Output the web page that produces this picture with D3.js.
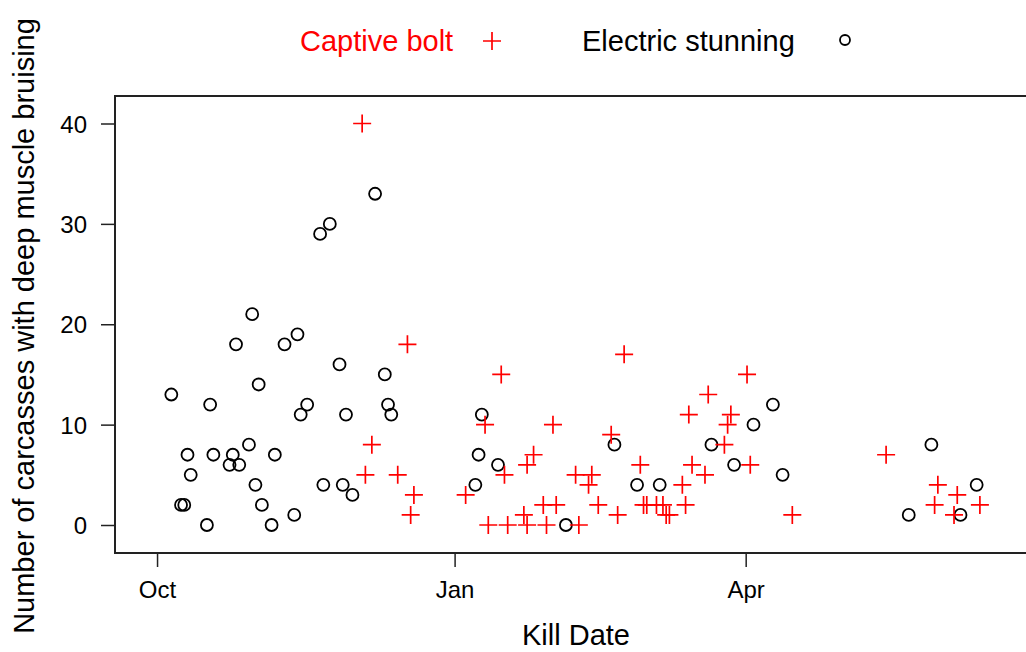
<!DOCTYPE html>
<html>
<head>
<meta charset="utf-8">
<script src="https://cdn.jsdelivr.net/npm/d3@7/dist/d3.min.js"></script>
<style>
  body { margin: 0; background: #fff; }
  svg { display: block; font-family: "Liberation Sans", Arial, sans-serif; }
</style>
</head>
<body>
<div class="chart"></div>
<script>
// kill dates and counts
const BOLT_DATES = ['2018-12-03','2018-12-17','2018-12-06','2018-12-04','2018-12-14','2018-12-19','2018-12-18',
  '2019-01-15','2019-02-22','2019-01-10','2019-01-31','2019-02-18','2019-01-25','2019-01-23','2019-01-16',
  '2019-01-04','2019-02-07','2019-02-12','2019-02-11','2019-02-27','2019-01-28','2019-02-01','2019-02-14',
  '2019-01-22','2019-02-20','2019-01-11','2019-01-17','2019-01-23','2019-01-29','2019-02-08',
  '2019-04-01','2019-03-20','2019-03-14','2019-03-27','2019-03-26','2019-03-25','2019-03-15','2019-04-02',
  '2019-03-19','2019-03-12','2019-02-28','2019-03-01','2019-03-04','2019-03-06','2019-03-07','2019-03-08',
  '2019-03-13','2019-04-15','2019-05-14','2019-05-30','2019-06-05','2019-05-29','2019-06-12','2019-06-04'];
const BOLT_COUNTS = [40,18,8,5,5,3,1,
  15,17,10,10,9,7,6,5,
  3,5,5,4,6,2,2,2,
  1,1,0,0,0,0,0,
  15,13,11,11,10,8,6,6,
  5,4,2,2,2,2,1,1,
  2,1,7,4,3,2,2,1];

const ELEC_DATES = ['2018-10-05','2018-10-17','2018-10-10','2018-10-11','2018-10-08','2018-10-09','2018-10-16',
  '2018-10-18','2018-10-24','2018-10-23','2018-10-26','2018-10-25','2018-10-30','2018-11-01','2018-10-29',
  '2018-10-31','2018-11-02','2018-11-05','2018-11-06','2018-11-09','2018-11-13','2018-11-12','2018-11-14',
  '2018-11-16','2018-12-07','2018-11-23','2018-11-20','2018-11-26','2018-12-10','2018-11-28','2018-12-11',
  '2018-12-12','2018-11-21','2018-11-27','2018-11-30',
  '2019-01-09','2019-02-19','2019-01-08','2019-01-14','2019-01-07','2019-02-26','2019-02-04','2019-04-09',
  '2019-04-03','2019-03-21','2019-03-28','2019-04-12','2019-03-05','2019-05-28','2019-06-11','2019-05-21',
  '2019-06-06'];
const ELEC_COUNTS = [13,12,7,5,2,2,0,
  7,7,6,6,18,21,14,8,
  4,2,0,7,18,19,1,11,
  12,33,30,29,16,15,11,12,
  11,4,4,3,
  11,8,7,6,4,4,0,12,
  10,8,6,5,4,8,4,1,
  1];

const Y_TICKS = [0, 10, 20, 30, 40];
const X_TICKS = ['2018-10-01', '2019-01-01', '2019-04-01'];
const SERIES = ['Captive bolt', 'Electric stunning'];

const W = 1026, H = 652;
const margin = {top: 96, left: 115, bottom: 99};

const parse = d3.timeParse('%Y-%m-%d');
const bolt = BOLT_DATES.map((d, i) => ({date: parse(d), value: BOLT_COUNTS[i]}));
const elec = ELEC_DATES.map((d, i) => ({date: parse(d), value: ELEC_COUNTS[i]}));

const svg = d3.select('.chart').append('svg')
  .attr('width', W).attr('height', H);

// plot box runs off the right side of the picture
const x = d3.scaleTime()
  .domain([parse('2018-09-18'), parse('2019-07-01')])
  .range([margin.left, 1040]);
const y = d3.scaleLinear()
  .domain([0, 40])
  .range([525, 123.5]);

// points sit a bit after midnight (recorded times)
const px = d => x(d3.timeHour.offset(d.date, 10));

svg.append('rect')
  .attr('x', margin.left).attr('y', margin.top)
  .attr('width', 1040 - margin.left).attr('height', H - margin.bottom - margin.top)
  .attr('fill', 'none').attr('stroke', '#222').attr('stroke-width', 2);

// axes
const xAxis = svg.append('g')
  .attr('transform', 'translate(0,' + (H - margin.bottom) + ')')
  .call(d3.axisBottom(x).tickValues(X_TICKS.map(parse)).tickFormat(d3.timeFormat('%b'))
    .tickSize(14).tickPadding(14));
const yAxis = svg.append('g')
  .attr('transform', 'translate(' + margin.left + ',0)')
  .call(d3.axisLeft(y).tickValues(Y_TICKS).tickSize(14).tickPadding(14));

[xAxis, yAxis].forEach(g => {
  g.select('.domain').remove();
  g.selectAll('line').attr('stroke', '#222').attr('stroke-width', 1.5);
  g.selectAll('text').attr('fill', '#000').style('font-size', '24px')
    .style('font-family', '"Liberation Sans", Arial, sans-serif');
});
yAxis.selectAll('text').attr('dy', '0.36em');

// titles
svg.append('text')
  .attr('x', 576).attr('y', 645)
  .attr('text-anchor', 'middle')
  .style('font-size', '29px')
  .text('Kill Date');
svg.append('text')
  .attr('transform', 'translate(34,326) rotate(-90)')
  .attr('text-anchor', 'middle')
  .style('font-size', '29px')
  .text('Number of carcasses with deep muscle bruising');

// marks
const cross = 'M-9,0H9M0,-9V9';

svg.append('g').selectAll('circle')
  .data(elec)
  .join('circle')
  .attr('cx', px)
  .attr('cy', d => y(d.value))
  .attr('r', 6)
  .attr('fill', 'none')
  .attr('stroke', '#000')
  .attr('stroke-width', 1.8);

svg.append('g').selectAll('path')
  .data(bolt)
  .join('path')
  .attr('transform', d => 'translate(' + px(d) + ',' + y(d.value) + ')')
  .attr('d', cross)
  .attr('fill', 'none')
  .attr('stroke', '#ff0000')
  .attr('stroke-width', 1.7);

// legend
const legend = svg.append('g');
legend.append('text')
  .attr('x', 300).attr('y', 51)
  .attr('fill', '#ff0000')
  .style('font-size', '29px')
  .text(SERIES[0]);
legend.append('path')
  .attr('transform', 'translate(492,41)')
  .attr('d', cross)
  .attr('fill', 'none').attr('stroke', '#ff0000').attr('stroke-width', 1.7);
legend.append('text')
  .attr('x', 582).attr('y', 51)
  .attr('fill', '#000')
  .style('font-size', '29px')
  .text(SERIES[1]);
legend.append('circle')
  .attr('cx', 845).attr('cy', 40).attr('r', 5)
  .attr('fill', 'none').attr('stroke', '#000').attr('stroke-width', 1.8);
</script>
</body>
</html>
